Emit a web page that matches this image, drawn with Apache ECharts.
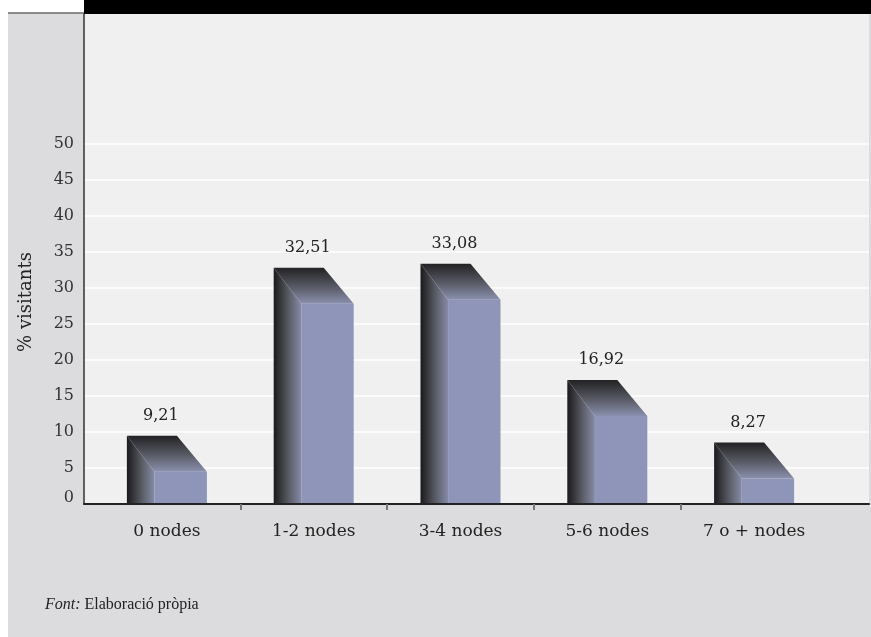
<!DOCTYPE html>
<html><head><meta charset="utf-8">
<script src="https://cdn.jsdelivr.net/npm/echarts@6/dist/echarts.min.js"></script>
<style>html,body{margin:0;padding:0;background:#fff;}#c{width:871px;height:637px;}</style>
</head><body><div id="c"></div>
<script>
const categories = ['0 nodes', '1-2 nodes', '3-4 nodes', '5-6 nodes', '7 o + nodes'];
const values = [9.21, 32.51, 33.08, 16.92, 8.27];
const yTicks = [0, 5, 10, 15, 20, 25, 30, 35, 40, 45, 50];
const yAxisTitle = '% visitants';
const sourceLabel = 'Font:';
const sourceText = 'Elaboració pròpia';

const SERIF = '"DejaVu Serif", serif';
const catStarts = categories.map((c, i) => i);           // band index of each category
const boundaryTicks = catStarts.slice(1);                 // interior category boundaries
const labelPositions = catStarts.map(i => i + 0.5);       // band centres
const yMaxLabel = yTicks[yTicks.length - 1];

const chart = echarts.init(document.getElementById('c'), null, {renderer: 'canvas'});

const splitColors = [];
for (let v = 0; v <= 70; v += 5) splitColors.push(v <= yMaxLabel ? '#ffffff' : 'rgba(0,0,0,0)');

chart.setOption({
  animation: false,
  backgroundColor: 'transparent',
  graphic: [
    {type: 'rect', z: -100, shape: {x: 8, y: 13, width: 863, height: 624}, style: {fill: '#dcdcde'}},
    {type: 'line', z: -99, shape: {x1: 8, y1: 13, x2: 84, y2: 13}, style: {stroke: '#6a6a6a', lineWidth: 1.5}},
    {type: 'rect', z: 50, shape: {x: 84, y: 0, width: 787, height: 14}, style: {fill: '#000000'}},
    {type: 'text', z: 50, x: 26, y: 302, rotation: Math.PI / 2,
      style: {text: yAxisTitle, font: '18px ' + SERIF, fill: '#222', align: 'center', verticalAlign: 'middle'}},
    {type: 'text', z: 50, x: 45, y: 605,
      style: {text: '{i|' + sourceLabel + '} ' + sourceText, font: '16px "Liberation Serif", serif', fill: '#222',
        verticalAlign: 'middle',
        rich: {i: {font: 'italic 16px "Liberation Serif", serif', fill: '#222'}}}}
  ],
  grid: {left: 84, right: 2, top: 14, bottom: 133, show: true, backgroundColor: '#f0f0f0', borderWidth: 0, containLabel: false},
  xAxis: {
    type: 'value', min: -0.0647, max: 5.2827, z: 5,
    axisLine: {show: true, onZero: false, lineStyle: {color: '#222', width: 2}},
    axisTick: {show: true, customValues: boundaryTicks, length: 6, lineStyle: {color: '#777', width: 2}},
    axisLabel: {show: true, customValues: labelPositions, margin: 19,
      formatter: v => categories[Math.round(v - 0.5)] || '',
      fontFamily: SERIF, fontSize: 17, color: '#222'},
    splitLine: {show: false}
  },
  yAxis: {
    type: 'value', min: 0, max: 68, interval: 5, z: 0,
    axisLine: {show: true, onZero: false, lineStyle: {color: '#333', width: 1.5}},
    axisTick: {show: false},
    axisLabel: {margin: 10, fontFamily: SERIF, fontSize: 16, color: '#333',
      formatter: v => (yTicks.indexOf(v) < 0 ? '' : (v === 0 ? '{z|0}' : String(v))),
      rich: {z: {fontFamily: SERIF, fontSize: 16, color: '#333', padding: [0, 0, 12, 0]}}},
    splitLine: {show: true, lineStyle: {color: splitColors, width: 1.5}}
  },
  series: [{
    type: 'custom',
    z: 2,
    data: values.map((v, i) => [labelPositions[i], v]),
    renderItem: function (params, api) {
      const xv = api.value(0), v = api.value(1);
      const p = api.coord([xv, v]);
      const b = api.coord([xv, 0]);
      const band = api.size([1, 0])[0];
      const w = band * 0.545;
      const L = p[0] - w / 2, R = p[0] + w / 2;
      const top = p[1] - 2, bot = b[1] + 1;
      const dx = w * 0.345, dy = 36, flat = w * 0.625;
      const leftGrad = new echarts.graphic.LinearGradient(L, 0, L + dx, 0, [
        {offset: 0, color: '#1a1a1c'}, {offset: 0.5, color: '#55575f'}, {offset: 1, color: '#868ba6'}], true);
      const topGrad = new echarts.graphic.LinearGradient(0, top, 0, top + dy, [
        {offset: 0, color: '#222224'}, {offset: 0.55, color: '#5a5c67'}, {offset: 1, color: '#8a90ae'}], true);
      const label = v.toFixed(2).replace('.', ',');
      return {
        type: 'group',
        children: [
          {type: 'rect', shape: {x: L + dx, y: top + dy, width: R - L - dx, height: bot - top - dy}, style: {fill: '#8e95b8'}},
          {type: 'polygon', shape: {points: [[L, top], [L + flat, top], [R, top + dy], [L + dx, top + dy]]}, style: {fill: topGrad}},
          {type: 'polygon', shape: {points: [[L, top], [L + dx, top + dy], [L + dx, bot], [L, bot]]}, style: {fill: leftGrad}},
          {type: 'text', style: {text: label, x: L + 34, y: top - 20, align: 'center', verticalAlign: 'middle',
            textAlign: 'center', textVerticalAlign: 'middle', font: '16px ' + SERIF, fill: '#222'}}
        ]
      };
    }
  }]
});
</script></body></html>
